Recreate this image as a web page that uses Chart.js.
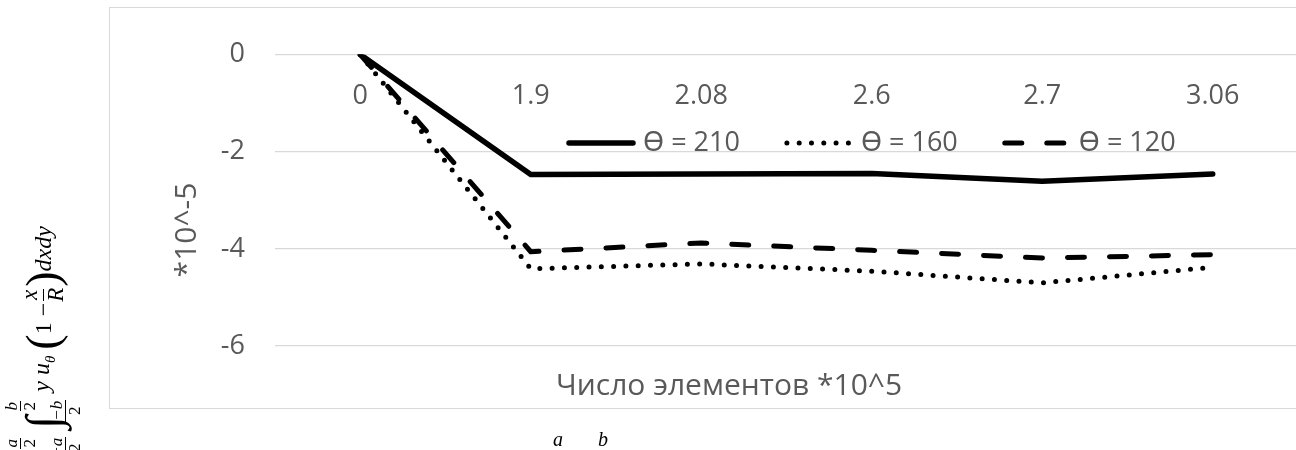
<!DOCTYPE html>
<html>
<head>
<meta charset="utf-8">
<script src="https://cdn.jsdelivr.net/npm/chart.js@4"></script>
<style>
  html, body { margin: 0; padding: 0; background: #fff; overflow: hidden; width: 1296px; height: 450px; }
  #frame { position: absolute; left: 109px; top: 7px; width: 1300px; height: 402px; border: 1px solid #d9d9d9; box-sizing: border-box; }
  #wrap { position: absolute; left: 0; top: 0; width: 1310px; height: 450px; }
  #formula { position: absolute; left: 3px; top: 466px; height: 80px; transform: rotate(-90deg); transform-origin: 0 0;
    display: flex; align-items: center; white-space: nowrap; font: italic 24px "Liberation Serif", "DejaVu Serif", serif; color: #000; }
  #formula .int { font-style: normal; font-size: 48px; line-height: 1; margin-right: 3px; }
  #formula .lim { display: inline-flex; flex-direction: column; justify-content: space-between; height: 80px; font-size: 17px; margin-right: 8px; }
  #formula .fr { display: inline-flex; flex-direction: column; align-items: center; line-height: 1.0; }
  #formula .fr .n { border-bottom: 1px solid #000; padding: 0 1px; }
  #formula .fr .d { font-style: normal; }
  #formula .lim .fr.lo { margin-left: -9px; }
  #formula .up { font-style: normal; }
  #formula .bigp { font-style: normal; font-size: 46px; font-weight: 300; line-height: 1; }
  #formula .mfr { display: inline-flex; flex-direction: column; align-items: center; line-height: 1.05; font-size: 23px; margin: 0 1px; }
  #formula .mfr .n { border-bottom: 1px solid #000; padding: 0 1px; }
  #formula sub { font-size: 15px; }
  #ab { position: absolute; top: 428px; left: 553px; font: italic 20px "Liberation Serif", "DejaVu Serif", serif; color: #000; }
</style>
</head>
<body>
<div id="frame"></div>
<div id="wrap"><canvas id="grafico" width="1310" height="450"></canvas></div>

<div id="formula">
  <span class="int">∫</span><span class="lim"><span class="fr"><span class="n">a</span><span class="d">2</span></span><span class="fr lo"><span class="n">−a</span><span class="d">2</span></span></span>
  <span class="int">∫</span><span class="lim"><span class="fr"><span class="n">b</span><span class="d">2</span></span><span class="fr lo"><span class="n">−b</span><span class="d">2</span></span></span>
  <span>y&nbsp;u<sub>θ</sub>&nbsp;</span><span class="bigp">(</span><span class="up">1 − </span><span class="mfr"><span class="n">x</span><span class="d">R</span></span><span class="bigp">)</span><span>dxdy</span>
</div>
<div id="ab">a<span style="display:inline-block;width:35px"></span>b</div>

<script>
// dados (valores *10^-5)
const categorias = ['0', '1.9', '2.08', '2.6', '2.7', '3.06'];
const serie210 = [0, -2.47, -2.46, -2.45, -2.61, -2.46];
const serie160 = [0, -4.41, -4.31, -4.46, -4.70, -4.38];
const serie120 = [0, -4.06, -3.88, -4.03, -4.19, -4.12];
const nomes = ['ϴ = 210', 'ϴ = 160', 'ϴ = 120'];
const yTicks = [0, -2, -4, -6];

const CINZA = '#595959';
const FONTE = '"Open Sans", "Noto Sans", sans-serif';

// legenda, rótulos de categoria e títulos desenhados à mão (estilo Excel)
const extras = {
    id: 'extras',
    afterDraw(chart) {
        const ctx = chart.ctx;
        const xs = chart.scales.x, ys = chart.scales.y;
        ctx.save();
        ctx.fillStyle = CINZA;
        ctx.textAlign = 'center';
        ctx.textBaseline = 'middle';
        ctx.font = '27px ' + FONTE;
        const y0 = ys.getPixelForValue(0);
        categorias.forEach((c, i) => ctx.fillText(c, xs.getPixelForValue(i), y0 + 42));

        ctx.font = '30px ' + FONTE;
        ctx.fillText('Число элементов *10^5', 729, 386);
        ctx.save();
        ctx.translate(187, 230);
        ctx.rotate(-Math.PI / 2);
        ctx.fillText('*10^-5', 0, 0);
        ctx.restore();

        // legenda
        ctx.font = '27px ' + FONTE;
        ctx.textAlign = 'left';
        let x = 566;
        const yl = 143;
        chart.data.datasets.forEach(ds => {
            ctx.save();
            ctx.strokeStyle = '#000';
            ctx.lineWidth = ds.borderWidth;
            ctx.lineCap = 'round';
            ctx.setLineDash(ds.borderDash || []);
            ctx.beginPath();
            ctx.moveTo(x + 3, yl);
            ctx.lineTo(x + 67, yl);
            ctx.stroke();
            ctx.restore();
            x += 77;
            ctx.fillText(ds.label, x, yl);
            x += ctx.measureText(ds.label).width + 44;
        });
        ctx.restore();
    }
};

new Chart(document.getElementById('grafico'), {
    type: 'line',
    data: {
        labels: categorias,
        datasets: [
            { label: nomes[0], data: serie210, borderColor: '#000', borderWidth: 5.5, borderCapStyle: 'round', borderJoinStyle: 'round', pointRadius: 0, tension: 0 },
            { label: nomes[1], data: serie160, borderColor: '#000', borderWidth: 5, borderDash: [0, 12.3], borderCapStyle: 'round', borderJoinStyle: 'round', pointRadius: 0, tension: 0 },
            { label: nomes[2], data: serie120, borderColor: '#000', borderWidth: 5, borderDash: [17, 25], borderCapStyle: 'round', borderJoinStyle: 'round', pointRadius: 0, tension: 0 }
        ]
    },
    options: {
        responsive: false,
        animation: false,
        devicePixelRatio: 1,
        layout: { padding: { top: 54.5, right: 12, bottom: 104, left: 0 } },
        plugins: { legend: { display: false }, tooltip: { enabled: false } },
        scales: {
            x: { type: 'category', offset: true, display: false },
            y: {
                min: -6, max: 0,
                afterFit: s => { s.width = 275; },
                afterBuildTicks: s => { s.ticks = yTicks.map(v => ({ value: v })); },
                ticks: { color: CINZA, font: { size: 27, family: FONTE }, padding: 30 },
                grid: { color: '#d9d9d9', lineWidth: 1.3, drawTicks: false },
                border: { display: false }
            }
        }
    },
    plugins: [extras]
});
</script>
</body>
</html>
